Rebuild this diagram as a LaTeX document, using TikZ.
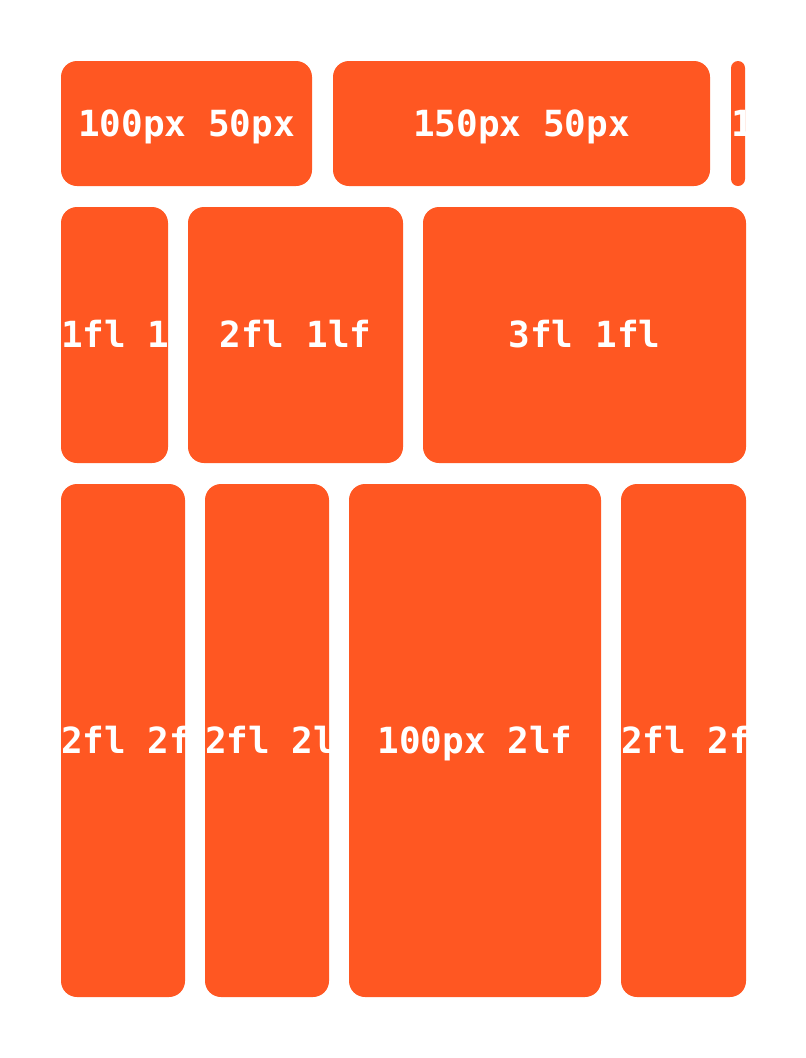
\documentclass[tikz,border=0pt]{standalone}
\usepackage{fontspec}
\setmonofont{DejaVu Sans Mono}
\definecolor{deeporange}{HTML}{FF5722}
\tikzset{
  obox/.style={fill=deeporange, draw=none, rounded corners=12pt, inner sep=0pt, outer sep=0pt},
  otxt/.style={text=white, font=\ttfamily\bfseries\fontsize{27}{32}\selectfont, inner sep=0pt, anchor=base, yshift=-9.7pt},
  ctext/.style={path picture={\node[otxt] at (path picture bounding box.center) {#1};}},
  ltext/.style={path picture={\node[otxt, anchor=base west] at (path picture bounding box.west) {#1};}}
}
\begin{document}
\begin{tikzpicture}[x=0.75pt, y=-0.75pt]
\useasboundingbox (0,0) rectangle (806,1058);
% row 1
\node[obox, minimum width=251*0.75pt, minimum height=125*0.75pt, ctext={100px 50px}] (b1) at (186.5,123.5) {};
\node[obox, minimum width=377*0.75pt, minimum height=125*0.75pt, ctext={150px 50px}] (b2) at (521.5,123.5) {};
\node[obox, rounded corners=5.25pt, minimum width=14*0.75pt, minimum height=125*0.75pt, ltext={1}] (b3) at (738,123.5) {};
% row 2
\node[obox, minimum width=107*0.75pt, minimum height=256*0.75pt, ltext={1fl 1}] (c1) at (114.5,335) {};
\node[obox, minimum width=215*0.75pt, minimum height=256*0.75pt, ctext={2fl 1lf}] (c2) at (295.5,335) {};
\node[obox, minimum width=323*0.75pt, minimum height=256*0.75pt, ctext={3fl 1fl}] (c3) at (584.5,335) {};
% row 3
\node[obox, minimum width=124*0.75pt, minimum height=513*0.75pt, ltext={2fl 2f}] (d1) at (123,740.5) {};
\node[obox, minimum width=124*0.75pt, minimum height=513*0.75pt, ltext={2fl 2l}] (d2) at (267,740.5) {};
\node[obox, minimum width=252*0.75pt, minimum height=513*0.75pt, ctext={100px 2lf}] (d3) at (475,740.5) {};
\node[obox, minimum width=125*0.75pt, minimum height=513*0.75pt, ltext={2fl 2f}] (d4) at (683.5,740.5) {};
\end{tikzpicture}
\end{document}
